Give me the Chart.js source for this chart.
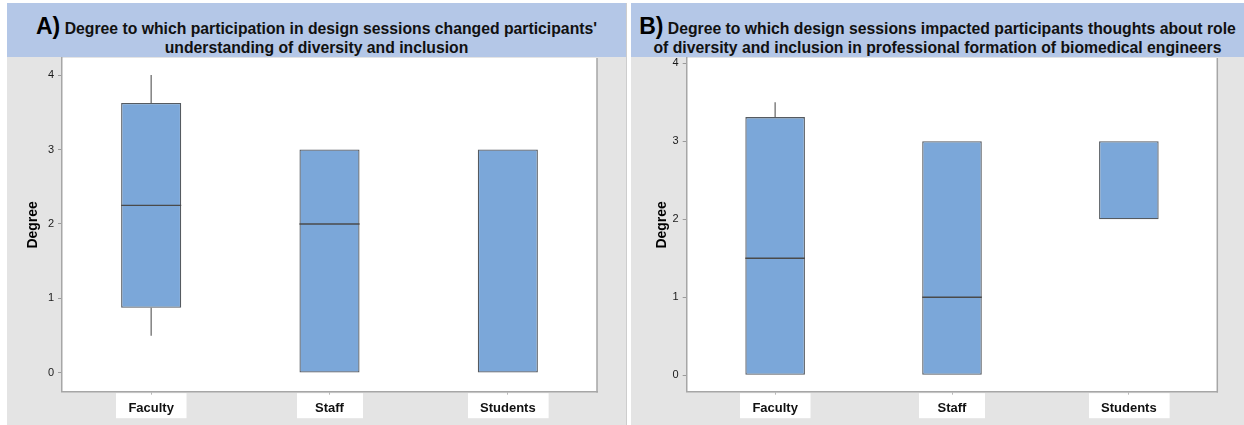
<!DOCTYPE html>
<html>
<head>
<meta charset="utf-8">
<script src="https://cdn.jsdelivr.net/npm/chart.js@4.4.1/dist/chart.umd.min.js"></script>
<style>
  html, body { margin: 0; padding: 0; background: #ffffff; }
  body { width: 1244px; height: 425px; position: relative; overflow: hidden;
         font-family: "Liberation Sans", Arial, sans-serif; }
  .panel { position: absolute; top: 3px; height: 422px; background: #e4e4e4; }
  #panelA { left: 7px; width: 619px; border-right: 1px solid #cdcdcd; }
  #panelB { left: 631px; width: 613px; }
  .head { position: absolute; left: 0; top: 0; right: 0; height: 54px; background: #b4c7e7;
          text-align: center; font-weight: bold; font-size: 15.75px; color: #111; z-index: 2; }
  .head .line { position: absolute; left: 0; right: 0; white-space: nowrap; line-height: 20px; }
  .head .l1 { top: 13px; }
  .head .l2 { top: 35px; }
  .head .tag { font-size: 23px; color: #000; }
  .plot { position: absolute; left: 0; top: 54px; }
</style>
</head>
<body>
<div class="panel" id="panelA">
  <div class="head">
    <div class="line l1"><span class="tag">A)</span> Degree to which participation in design sessions changed participants'</div>
    <div class="line l2">understanding of diversity and inclusion</div>
  </div>
  <div class="plot" style="width:619px;height:368px"><canvas id="chartA"></canvas></div>
</div>
<div class="panel" id="panelB">
  <div class="head">
    <div class="line l1"><span class="tag">B)</span> Degree to which design sessions impacted participants thoughts about role</div>
    <div class="line l2">of diversity and inclusion in professional formation of biomedical engineers</div>
  </div>
  <div class="plot" style="width:613px;height:368px"><canvas id="chartB"></canvas></div>
</div>
<script>
// Groups and y-axis ticks
const categories = ['Faculty', 'Staff', 'Students'];
const tickValues = [0, 1, 2, 3, 4];

// A) change in understanding of diversity and inclusion
const aQ1     = [0.875, 0, 0];
const aQ3     = [3.625, 3, 3];
const aMedian = [2.25, 2, 3];
const aLow    = [0.5, 0, 0];
const aHigh   = [4, 3, 3];

// B) impact on thoughts about role of diversity and inclusion
const bQ1     = [0, 0, 2];
const bQ3     = [3.31, 3, 3];
const bMedian = [1.5, 1, 3];
const bLow    = [0, 0, 2];
const bHigh   = [3.5, 3, 3];

const FONT = '"Liberation Sans", Arial, sans-serif';
const AXIS_GREY = '#a6a6a6';

// White plot area, right frame edge and white boxes behind category labels
const frameAndLabels = {
  id: 'frameAndLabels',
  beforeDraw(chart) {
    const { ctx, chartArea: a, scales: { x } } = chart;
    ctx.save();
    ctx.fillStyle = '#ffffff';
    ctx.fillRect(a.left, a.top, a.right - a.left, a.bottom - a.top);
    ctx.font = 'bold 13px ' + FONT;
    categories.forEach((c, i) => {
      const cx = x.getPixelForValue(i);
      const w = Math.max(66, ctx.measureText(c).width + 25);
      ctx.fillRect(Math.round(cx - w / 2), a.bottom + 1.5, w, 25);
    });
    ctx.restore();
  },
  afterDraw(chart) {
    const { ctx, chartArea: a } = chart;
    ctx.save();
    ctx.strokeStyle = AXIS_GREY;
    ctx.lineWidth = 1.5;
    ctx.beginPath();
    ctx.moveTo(a.right, a.top);
    ctx.lineTo(a.right, a.bottom + 0.75);
    ctx.stroke();
    ctx.restore();
  }
};

// Whiskers and median lines, placed through the chart scales
function whiskerPlugin(low, high, q1, q3, median) {
  return {
    id: 'whiskers',
    afterDatasetsDraw(chart) {
      const { ctx, scales: { x, y } } = chart;
      const bars = chart.getDatasetMeta(0).data;
      ctx.save();
      ctx.lineCap = 'butt';
      categories.forEach((c, i) => {
        const cx = x.getPixelForValue(i);
        ctx.strokeStyle = '#6e6e6e';
        ctx.lineWidth = 1.3;
        if (high[i] > q3[i]) {
          ctx.beginPath();
          ctx.moveTo(cx, y.getPixelForValue(high[i]));
          ctx.lineTo(cx, y.getPixelForValue(q3[i]));
          ctx.stroke();
        }
        if (low[i] < q1[i]) {
          ctx.beginPath();
          ctx.moveTo(cx, y.getPixelForValue(q1[i]));
          ctx.lineTo(cx, y.getPixelForValue(low[i]));
          ctx.stroke();
        }
        // a median sitting on a box edge coincides with that edge
        if (median[i] > q1[i] && median[i] < q3[i]) {
          const half = bars[i].width / 2;
          const my = y.getPixelForValue(median[i]);
          ctx.strokeStyle = '#4a4a4a';
          ctx.beginPath();
          ctx.moveTo(cx - half, my);
          ctx.lineTo(cx + half, my);
          ctx.stroke();
        }
      });
      ctx.restore();
    }
  };
}

function makeChart(id, q1, q3, median, low, high, yMin, yMax, axisWidth, rightPad, titlePad) {
  return new Chart(document.getElementById(id), {
    type: 'bar',
    data: {
      labels: categories,
      datasets: [{
        data: categories.map((c, i) => [q1[i], q3[i]]),
        backgroundColor: '#7ba7d9',
        borderColor: '#555a60',
        borderWidth: 1.3,
        borderSkipped: false,
        categoryPercentage: 1,
        barPercentage: 0.337
      }]
    },
    options: {
      responsive: true,
      maintainAspectRatio: false,
      animation: false,
      events: [],
      layout: { padding: { left: 0, right: rightPad, top: 1, bottom: 0 } },
      plugins: { legend: { display: false }, tooltip: { enabled: false } },
      scales: {
        x: {
          grid: { display: true, offset: false, drawOnChartArea: false, tickLength: 3, color: '#b8b8b8' },
          border: { display: true, color: AXIS_GREY, width: 1.5 },
          ticks: { color: '#111', font: { family: FONT, size: 13, weight: 'bold' }, padding: 6 },
          afterFit(s) { s.height = 33.3; s.paddingLeft = 0; s.paddingRight = 0; }
        },
        y: {
          min: yMin,
          max: yMax,
          afterBuildTicks(s) { s.ticks = tickValues.map(v => ({ value: v })); },
          grid: { display: true, drawOnChartArea: false, tickLength: 4, color: '#9a9a9a' },
          border: { display: true, color: AXIS_GREY, width: 1.5 },
          ticks: { color: '#1a1a1a', font: { family: FONT, size: 11 }, padding: 4 },
          title: { display: true, text: 'Degree', color: '#000',
                   font: { family: FONT, size: 14, weight: 'bold' },
                   padding: { top: titlePad, bottom: 0 } },
          afterFit(s) { s.width = axisWidth; s.paddingTop = 0; s.paddingBottom = 0; }
        }
      }
    },
    plugins: [frameAndLabels, whiskerPlugin(low, high, q1, q3, median)]
  });
}

makeChart('chartA', aQ1, aQ3, aMedian, aLow, aHigh, -0.252, 4.229, 55, 29, 17.6);
makeChart('chartB', bQ1, bQ3, bMedian, bLow, bHigh, -0.211, 4.068, 55.7, 26.7, 22.3);
</script>
</body>
</html>
